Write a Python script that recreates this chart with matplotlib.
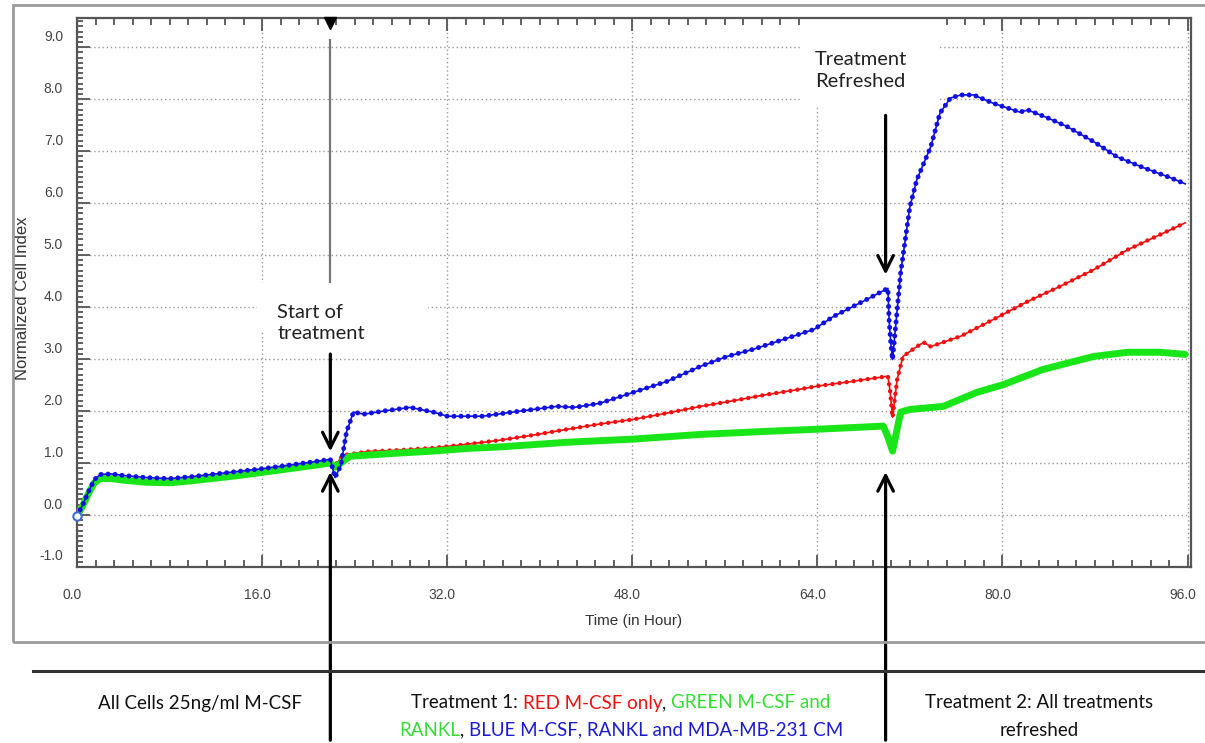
import matplotlib.pyplot as plt
import numpy as np
from matplotlib.patches import Rectangle
from matplotlib.transforms import ScaledTranslation

# ---- data ----
blue_t = [0, 0.5, 1.0, 1.5, 2.0, 3.0, 4.0, 6.0, 8.0, 10, 12, 14, 16, 18, 20, 21.9,
          22.3, 22.8, 23.3, 23.9, 24.8, 26.5, 28.8, 30.8, 32.0, 35.1, 37.0, 39.4,
          41.5, 43.0, 45.2, 48.1, 51.0, 53.9, 56.2, 58.5, 61.1, 63.7, 65.4, 68.3,
          70.1, 70.2, 70.35, 70.5, 71.2, 72.0, 72.6, 73.8, 74.6, 75.5, 76.4, 77.5,
          79.2, 81.5, 82.2, 83.9, 85.6, 87.9, 89.9, 92.2, 94.5, 95.8]
blue_v = [-0.02, 0.2, 0.45, 0.68, 0.78, 0.79, 0.76, 0.72, 0.70, 0.74, 0.79, 0.84, 0.89,
          0.95, 1.01, 1.07, 0.72, 0.95, 1.6, 1.98, 1.94, 2.0, 2.07, 1.98, 1.90, 1.90,
          1.96, 2.03, 2.09, 2.07, 2.15, 2.36, 2.57, 2.86, 3.05, 3.19, 3.38, 3.57,
          3.82, 4.15, 4.36, 3.76, 3.3, 2.99, 4.66, 5.93, 6.45, 7.08, 7.73, 8.02,
          8.08, 8.08, 7.92, 7.75, 7.79, 7.64, 7.47, 7.18, 6.89, 6.68, 6.49, 6.37]

red_t = [0, 0.5, 1.0, 1.5, 2.0, 3.0, 4.0, 6.0, 8.0, 10, 12, 14, 16, 18, 20, 21.9,
         22.3, 23.0, 25.1, 28.0, 30.8, 33.7, 36.6, 39.5, 42.4, 45.2, 48.1, 51.0,
         53.9, 56.8, 59.7, 62.0, 64.0, 67.0, 70.1, 70.3, 70.5, 70.9, 71.4, 72.6,
         73.2, 73.8, 76.4, 79.2, 82.2, 85.0, 87.9, 90.8, 93.6, 95.8]
red_v = [-0.02, 0.18, 0.42, 0.62, 0.70, 0.70, 0.67, 0.63, 0.62, 0.66, 0.71, 0.76, 0.82,
         0.88, 0.94, 1.0, 0.95, 1.15, 1.22, 1.25, 1.29, 1.36, 1.44, 1.54, 1.65,
         1.75, 1.84, 1.96, 2.09, 2.2, 2.32, 2.40, 2.48, 2.57, 2.67, 2.36, 1.88,
         2.61, 3.05, 3.24, 3.32, 3.24, 3.44, 3.76, 4.11, 4.40, 4.72, 5.10, 5.39, 5.62]

green_t = [0, 0.5, 1.0, 1.5, 2.0, 3.0, 4.0, 6.0, 8.0, 10, 12, 14, 16, 18, 20, 21.9,
           22.3, 23.6, 27.0, 30.8, 33.7, 36.6, 42.4, 48.1, 53.9, 59.7, 64.0, 69.7,
           70.1, 70.5, 71.2, 72.0, 74.9, 77.8, 80.1, 83.5, 87.9, 90.8, 93.6, 95.8]
green_v = [-0.02, 0.18, 0.42, 0.62, 0.70, 0.70, 0.67, 0.63, 0.62, 0.66, 0.71, 0.76,
           0.82, 0.88, 0.94, 1.0, 0.92, 1.13, 1.18, 1.23, 1.28, 1.31, 1.40, 1.46,
           1.55, 1.61, 1.65, 1.71, 1.5, 1.23, 1.98, 2.03, 2.09, 2.36, 2.51, 2.80,
           3.05, 3.13, 3.13, 3.09]

x_ticks = [0, 16, 32, 48, 64, 80, 96]
y_ticks = [-1, 0, 1, 2, 3, 4, 5, 6, 7, 8, 9]
t_start = 21.9      # start of treatment
t_refresh = 69.9    # treatment refreshed

BLUE = '#1010e0'
RED = '#f01010'
GREEN = '#19e619'

fig = plt.figure(figsize=(12.05, 7.43), dpi=100)
ax = fig.add_axes([77 / 1205, 1 - 567 / 743, (1191 - 77) / 1205, (567 - 18) / 743])

# thin line plus round-capped dotted overlay gives the dotted-marker look
ax.plot(red_t, red_v, color=RED, lw=1.2, zorder=2.5)
ax.plot(red_t, red_v, color=RED, lw=3.2, ls=(0, (0.001, 1.6)), dash_capstyle='round',
        zorder=2.5)
ax.plot(green_t, green_v, color=GREEN, lw=5, zorder=3, solid_capstyle='round',
        solid_joinstyle='round')
ax.plot(blue_t, blue_v, color=BLUE, lw=1.2, zorder=5)
ax.plot(blue_t, blue_v, color=BLUE, lw=3.6, ls=(0, (0.001, 1.4)), dash_capstyle='round',
        zorder=5)
ax.plot([0], [-0.02], marker='o', ms=6, mfc='white', mec='#3b6fd0', mew=1.5,
        zorder=6, clip_on=False)

ax.set_xlim(0, 96.3)
ax.set_ylim(-1, 9.56)
ax.set_xticks(x_ticks)
ax.set_xticklabels([f'{v:.1f}' for v in x_ticks])
ax.set_xticks(np.arange(0, 96.1, 1.6), minor=True)
ax.set_yticks(y_ticks)
ax.set_yticklabels([f'{v:.1f}' for v in y_ticks])
ax.set_yticks(np.arange(-1, 9.51, 0.1), minor=True)

ax.tick_params(axis='both', which='both', direction='in', color='#555555', width=1.3)
ax.tick_params(axis='x', which='both', top=True)
ax.tick_params(axis='x', which='major', length=9, pad=15)
ax.tick_params(axis='x', which='minor', length=5)
ax.tick_params(axis='y', which='major', length=9, pad=10)
ax.tick_params(axis='y', which='minor', length=4)
ax.tick_params(labelsize=10, labelcolor='#444444')

for lab in ax.get_yticklabels():
    lab.set_family('Liberation Sans')
    lab.set_transform(lab.get_transform() + ScaledTranslation(0, 12 / 100, fig.dpi_scale_trans))
for lab in ax.get_xticklabels():
    lab.set_family('Liberation Sans')
    lab.set_transform(lab.get_transform() + ScaledTranslation(-5 / 100, 0, fig.dpi_scale_trans))

for spine in ax.spines.values():
    spine.set_color('#555555')
    spine.set_linewidth(1.6)

ax.grid(True, which='major', color='#999999', ls=(0, (1, 2)), lw=1)
ax.set_axisbelow(True)

ax.set_ylabel('Normalized Cell Index', fontsize=12, color='#333333', family='Liberation Sans')
ax.yaxis.set_label_coords(-0.042, 0.49)
ax.set_xlabel('Time (in Hour)', fontsize=11, color='#333333', family='Liberation Sans',
              labelpad=9)

# white patches behind the annotation texts
ax.add_patch(Rectangle((15.6, 3.52), 14.7, 0.95, fc='white', ec='none', zorder=1.5))
ax.add_patch(Rectangle((62.5, 7.85), 12.1, 1.8, fc='white', ec='none', zorder=1.5))

# marker line from the software at the start of treatment
ax.plot([t_start, t_start], [4.47, 9.14], color='#777777', lw=1.6, zorder=1.2)
ax.plot([t_start], [9.47], marker='v', ms=8, color='black', zorder=6, clip_on=False)

txt_font = dict(family=['Lato', 'DejaVu Sans'], fontsize=14.5, color='#222222')
ax.text(17.3, 3.70, 'Start of\ntreatment', ha='left', va='center', linespacing=1.3,
        zorder=7, **txt_font)
ax.text(63.8, 8.55, 'Treatment\nRefreshed', ha='left', va='center', linespacing=1.3,
        zorder=7, **txt_font)

arrow = dict(arrowstyle='->', color='black', lw=2.3, mutation_scale=28)
ax.annotate('', xy=(t_start, 1.17), xytext=(t_start, 3.15), arrowprops=arrow, zorder=8)
ax.annotate('', xy=(t_refresh, 4.57), xytext=(t_refresh, 7.74), arrowprops=arrow, zorder=8)
for tx in (t_start, t_refresh):
    ax.annotate('', xy=(tx, 0.88), xycoords='data', xytext=(tx, 0.0),
                textcoords=('data', 'figure fraction'), arrowprops=arrow,
                annotation_clip=False, zorder=8)

# outer panel frame and separator line
fig.add_artist(Rectangle((13 / 1205, 1 - 642 / 743), 1.1, (642 - 5) / 743,
                         transform=fig.transFigure, fc='none', ec='#9a9a9a', lw=2))
fig.add_artist(plt.Line2D([33 / 1205, 1.0], [1 - 671 / 743] * 2, color='#333333', lw=2.2,
                          transform=fig.transFigure))

# captions under the chart
cap = dict(family=['Lato', 'DejaVu Sans'], fontsize=13.5)
fig.text(200 / 1205, 1 - 703 / 743, 'All Cells 25ng/ml M-CSF', ha='center', va='center',
         color='#111111', **cap)
fig.text(1039 / 1205, 1 - 703 / 743, 'Treatment 2: All treatments', ha='center',
         va='center', color='#111111', **cap)
fig.text(1039 / 1205, 1 - 730 / 743, 'refreshed', ha='center', va='center',
         color='#111111', **cap)

line1 = [('Treatment 1: ', '#111111'), ('RED M-CSF only', RED), (', ', '#111111'),
         ('GREEN M-CSF and', '#33dd33')]
line2 = [('RANKL', '#33dd33'), (', ', '#111111'),
         ('BLUE M-CSF, RANKL and MDA-MB-231 CM', '#1a1ad0')]

renderer = fig.canvas.get_renderer()


def colored_line(pieces, xc, y):
    texts = [fig.text(0, y, s, color=c, ha='left', va='center', **cap) for s, c in pieces]
    widths = [t.get_window_extent(renderer).width / fig.bbox.width for t in texts]
    x = xc - sum(widths) / 2
    for t, w in zip(texts, widths):
        t.set_x(x)
        x += w


colored_line(line1, 621 / 1205, 1 - 703 / 743)
colored_line(line2, 621 / 1205, 1 - 730 / 743)

fig.savefig('out.png', dpi=100)
